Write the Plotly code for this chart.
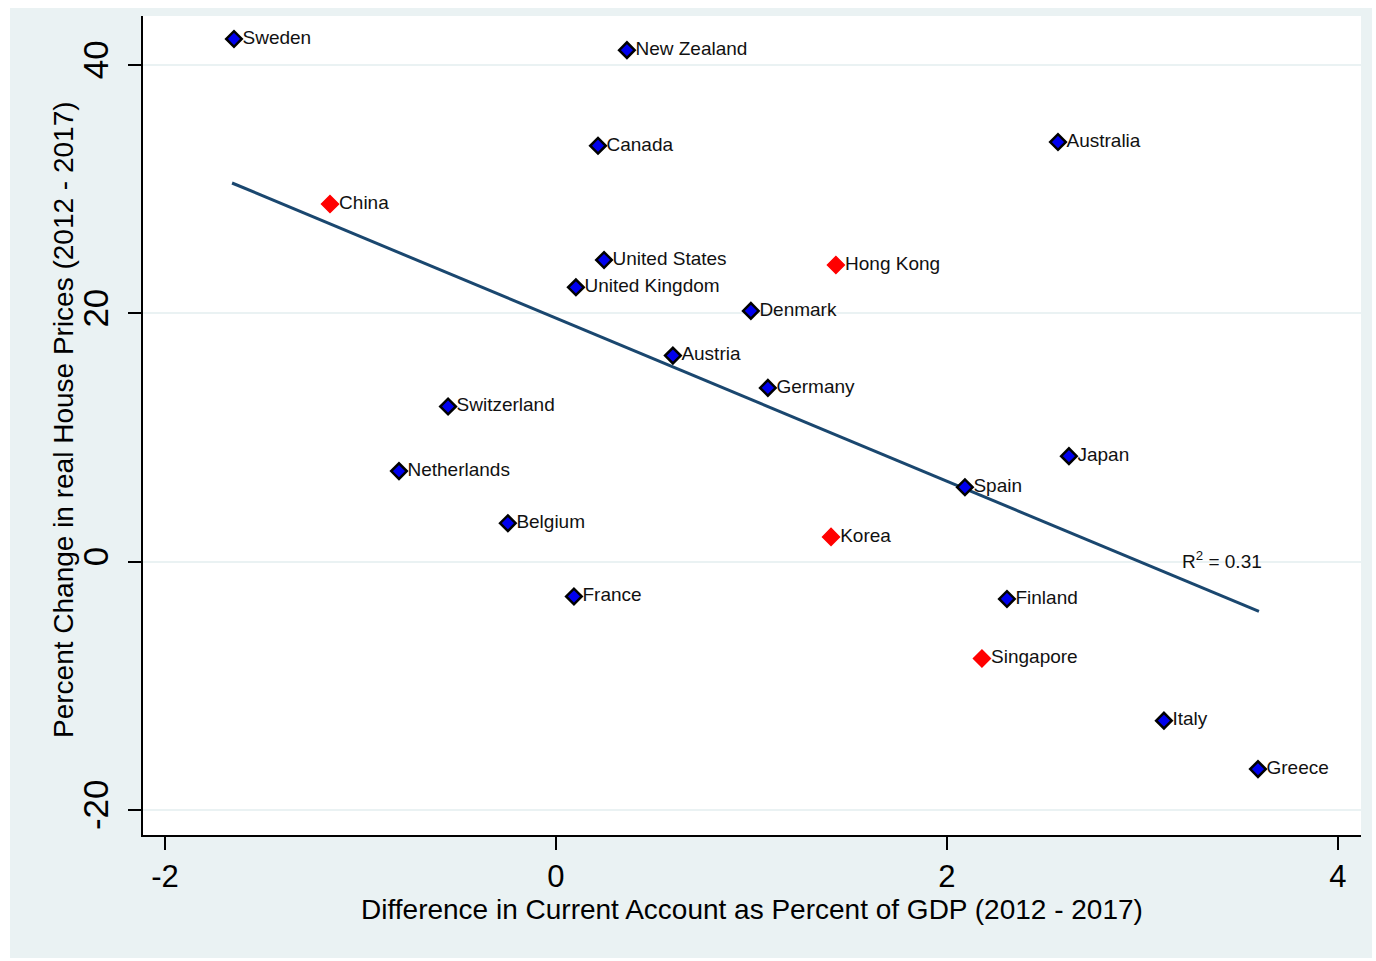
import plotly.graph_objects as go

# Advanced economies (blue)
blue_countries = ["Sweden", "New Zealand", "Canada", "Australia", "United States",
                  "United Kingdom", "Denmark", "Austria", "Germany", "Switzerland",
                  "Japan", "Netherlands", "Spain", "Belgium", "France", "Finland",
                  "Italy", "Greece"]
blue_x = [-1.647, 0.363, 0.215, 2.568, 0.246, 0.102, 0.997, 0.598, 1.084, -0.552,
          2.624, -0.803, 2.092, -0.246, 0.092, 2.307, 3.110, 3.591]
blue_y = [42.1, 41.2, 33.5, 33.8, 24.3, 22.1, 20.2, 16.6, 14.0, 12.5,
          8.5, 7.3, 6.0, 3.1, -2.8, -3.0, -12.8, -16.7]

# Asian economies (red)
red_countries = ["China", "Hong Kong", "Korea", "Singapore"]
red_x = [-1.156, 1.432, 1.407, 2.179]
red_y = [28.8, 23.9, 2.0, -7.8]

# Fitted line endpoints
fit_x = [-1.657, 3.596]
fit_y = [30.5, -4.0]
r2_text = "R<sup>2</sup> = 0.31"

x_ticks = [-2, 0, 2, 4]
y_ticks = [-20, 0, 20, 40]

x_title = "Difference in Current Account as Percent of GDP (2012 - 2017)"
y_title = "Percent Change in real House Prices (2012 - 2017)"

FONT = "Liberation Sans, Arial, sans-serif"
BG = "#eaf2f3"

fig = go.Figure()

fig.add_trace(go.Scatter(
    x=fit_x, y=fit_y, mode="lines",
    line=dict(color="#1a476f", width=3), hoverinfo="skip", showlegend=False))

fig.add_trace(go.Scatter(
    x=blue_x, y=blue_y, mode="markers+text", text=blue_countries,
    textposition="middle right",
    textfont=dict(family=FONT, size=19, color="#111111"),
    marker=dict(symbol="diamond", size=12, color="#0000ee",
                line=dict(color="black", width=2.5)),
    showlegend=False))

fig.add_trace(go.Scatter(
    x=red_x, y=red_y, mode="markers+text", text=red_countries,
    textposition="middle right",
    textfont=dict(family=FONT, size=19, color="#111111"),
    marker=dict(symbol="diamond", size=13, color="#ff0000",
                line=dict(color="#ff0000", width=1.5)),
    showlegend=False))

fig.add_annotation(x=3.19, y=0.1, text=r2_text, showarrow=False,
                   xanchor="left", yanchor="middle",
                   font=dict(family=FONT, size=19, color="#111111"))

# Y axis title as rotated annotation
fig.add_annotation(xref="paper", yref="paper", x=-80/1218, y=(835-420)/819,
                   text=y_title, textangle=-90, showarrow=False,
                   xanchor="center", yanchor="middle",
                   font=dict(family=FONT, size=28, color="black"))

# Outer light frame and white plot area
fig.add_shape(type="rect", xref="paper", yref="paper",
              x0=-133/1218, x1=(1372-143)/1218, y0=-(958-835)/819, y1=(835-8)/819,
              fillcolor=BG, line=dict(width=0), layer="below")
fig.add_shape(type="rect", xref="paper", yref="paper",
              x0=0, x1=1, y0=0, y1=1,
              fillcolor="white", line=dict(width=0), layer="below")

fig.update_layout(
    width=1376, height=961,
    margin=dict(l=143, r=15, t=16, b=126),
    paper_bgcolor="white", plot_bgcolor="white",
    font=dict(family=FONT, color="black"),
    xaxis=dict(
        range=[-2.1125, 4.118], tickvals=x_ticks, ticktext=[str(v) for v in x_ticks],
        showgrid=False, zeroline=False,
        showline=True, linecolor="black", linewidth=2,
        ticks="outside", ticklen=13, tickwidth=2, tickcolor="black",
        tickfont=dict(family=FONT, size=31, color="black"),
        title=dict(text=x_title,
                   font=dict(family=FONT, size=28, color="black"), standoff=2),
    ),
    yaxis=dict(
        range=[-22.01, 43.95], tickvals=y_ticks, ticktext=[str(v) for v in y_ticks],
        showgrid=True, gridcolor=BG, gridwidth=2, zeroline=False,
        showline=True, linecolor="black", linewidth=2,
        ticks="outside", ticklen=13, tickwidth=2, tickcolor="black",
        tickangle=-90, ticklabelstandoff=6,
        tickfont=dict(family=FONT, size=35, color="black"),
    ),
)

fig.write_html("out.html")
